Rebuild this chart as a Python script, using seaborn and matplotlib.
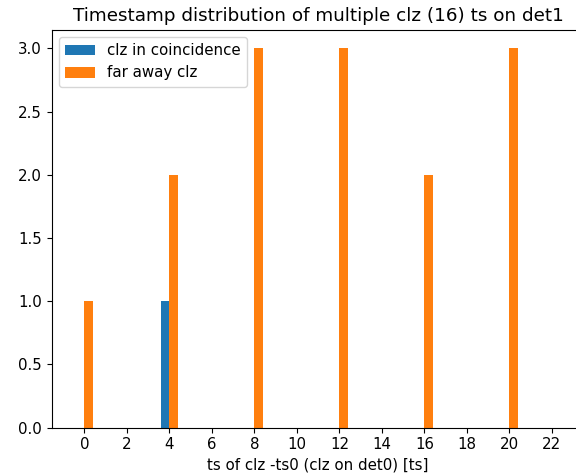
import matplotlib
matplotlib.use("Agg")
import matplotlib.pyplot as plt
import seaborn as sns
import pandas as pd
import numpy as np

# Data
ts_values = list(range(0, 23))
coincidence_counts = [0, 0, 0, 0, 1, 0, 0, 0, 0, 0, 0, 0, 0, 0, 0, 0, 0, 0, 0, 0, 0, 0, 0]
faraway_counts = [1, 0, 0, 0, 2, 0, 0, 0, 3, 0, 0, 0, 3, 0, 0, 0, 2, 0, 0, 0, 3, 0, 0]
series_names = ["clz in coincidence", "far away clz"]
series_colors = ["#1f77b4", "#ff7f0e"]

df = pd.DataFrame({
    "ts": ts_values * 2,
    "count": coincidence_counts + faraway_counts,
    "series": [series_names[0]] * len(ts_values) + [series_names[1]] * len(ts_values),
})

fs = 10.8
plt.rcParams.update({"font.size": fs, "xtick.labelsize": fs, "ytick.labelsize": fs,
                     "axes.labelsize": fs, "legend.fontsize": fs})

W, H = 576, 476
fig = plt.figure(figsize=(W / 100, H / 100), dpi=100)
left, right, bottom, top = 51.7, 584.7, 427.7, 29.5
ax = fig.add_axes([left / W, (H - bottom) / H, (right - left) / W, (bottom - top) / H])

sns.barplot(data=df, x="ts", y="count", hue="series", hue_order=series_names,
            palette=series_colors, native_scale=True, width=0.8, dodge=True,
            errorbar=None, saturation=1, ax=ax)

ax.set_xticks(np.arange(0, 23, 2))
ax.set_yticks(np.arange(0, 3.01, 0.5))
ax.set_xlim(-1.54, 23.54)
ax.set_ylim(0, 3.15)
ax.spines["right"].set_visible(False)
ax.set_xlabel("ts of clz -ts0 (clz on det0) [ts]")
ax.set_ylabel("")
ax.set_title("Timestamp distribution of multiple clz (16) ts on det1", fontsize=13.2)
ax.legend(loc="upper left", title=None)

fig.savefig("out.png", dpi=100)
